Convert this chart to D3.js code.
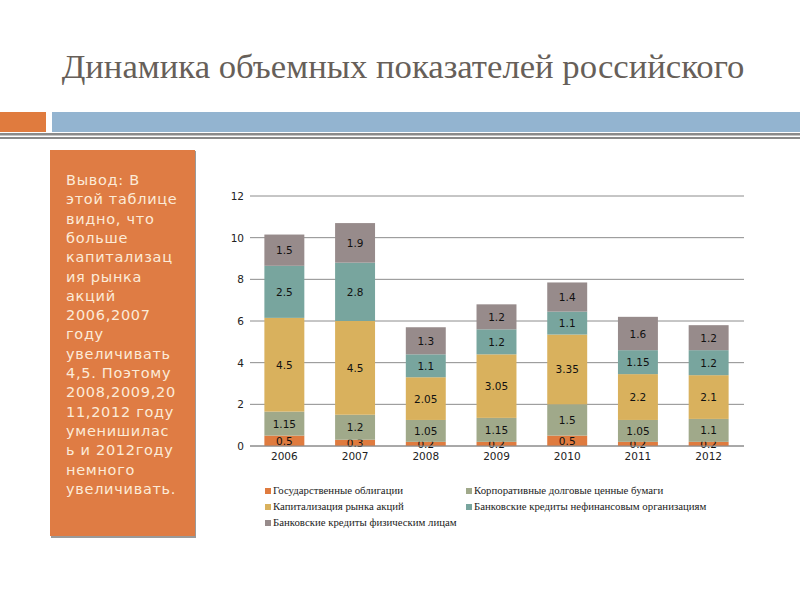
<!DOCTYPE html>
<html><head><meta charset="utf-8">
<script src="https://cdn.jsdelivr.net/npm/d3@7"></script>
<style>body{margin:0;background:#fff}svg{display:block}</style>
</head><body>
<svg id="c" width="800" height="600"></svg>
<script>
const years = ["2006","2007","2008","2009","2010","2011","2012"];
const seriesNames = ["Государственные облигации","Корпоративные долговые ценные бумаги","Капитализация рынка акций","Банковские кредиты нефинансовым организациям","Банковские кредиты физическим лицам"];
const govBonds = [0.5,0.3,0.2,0.2,0.5,0.2,0.2];
const corpBonds = [1.15,1.2,1.05,1.15,1.5,1.05,1.1];
const stockCap = [4.5,4.5,2.05,3.05,3.35,2.2,2.1];
const loansOrg = [2.5,2.8,1.1,1.2,1.1,1.15,1.2];
const loansInd = [1.5,1.9,1.3,1.2,1.4,1.6,1.2];
const yTicks = [0,2,4,6,8,10,12];
const colors = ["#df7b3f","#a0a98a","#d9b15d","#78a59e","#978b8b"];
const titleText = "Динамика объемных показателей российского";
const noteLines = ["Вывод: В","этой таблице","видно, что","больше","капитализац","ия рынка","акций","2006,2007","году","увеличивать","4,5. Поэтому","2008,2009,20","11,2012 году","уменишилас","ь и 2012году","немного","увеличивать."];
const SERIF = "Liberation Serif";
const SANS = "DejaVu Sans";

const svg = d3.select("#c");
// title
svg.append("text").style("font-family",SERIF).attr("x",403).attr("y",78).attr("text-anchor","middle")
  .attr("font-size",34.7).attr("fill","#675f59").text(titleText);
// header bars
svg.append("rect").attr("x",0).attr("y",112).attr("width",46).attr("height",20).attr("fill","#e07b3e");
svg.append("rect").attr("x",52).attr("y",112).attr("width",748).attr("height",20).attr("fill","#93b4d0");
svg.append("rect").attr("x",0).attr("y",133).attr("width",800).attr("height",2.5).attr("fill","#8a8a8a");
svg.append("rect").attr("x",0).attr("y",137).attr("width",800).attr("height",2).attr("fill","#8a8a8a");
// left panel
svg.append("rect").attr("x",51).attr("y",151).attr("width",145).attr("height",387).attr("fill","#9a9a9a");
svg.append("rect").attr("x",50).attr("y",150).attr("width",145).attr("height",386).attr("fill","#df7c44");
const note = svg.append("text").style("font-family",SANS).attr("font-size",14.5)
  .attr("letter-spacing",0.7).attr("fill","#fcebd8");
note.selectAll("tspan").data(noteLines).join("tspan").attr("x",66).attr("y",(d,i)=>185+i*19.3).text(d=>d);

// chart
const x = d3.scaleBand().domain(years).range([249,744]).paddingInner(0.435).paddingOuter(0.2175);
const y = d3.scaleLinear().domain([0,12]).range([446,196]);
const g = svg.append("g");
g.selectAll("line.grid").data(yTicks).join("line").attr("class","grid")
  .attr("x1",250).attr("x2",744).attr("y1",d=>y(d)).attr("y2",d=>y(d)).attr("stroke","#8c8c8c").attr("stroke-width",1);
g.selectAll("text.yt").data(yTicks).join("text").attr("class","yt").style("font-family",SANS)
  .attr("x",244).attr("y",d=>y(d)+4).attr("text-anchor","end")
  .attr("font-size",10.5).attr("fill","#222").text(d=>d);

const table = years.map((yr,i)=>({year:yr, s0:govBonds[i], s1:corpBonds[i], s2:stockCap[i], s3:loansOrg[i], s4:loansInd[i]}));
const keys = ["s0","s1","s2","s3","s4"];
const stack = d3.stack().keys(keys)(table);
stack.forEach((layer,li)=>{
  const lg = g.append("g");
  lg.selectAll("rect").data(layer).join("rect")
    .attr("x",d=>x(d.data.year)).attr("width",x.bandwidth())
    .attr("y",d=>y(d[1])).attr("height",d=>y(d[0])-y(d[1])).attr("fill",colors[li]);
  lg.selectAll("text").data(layer).join("text").style("font-family",SANS)
    .attr("x",d=>x(d.data.year)+x.bandwidth()/2).attr("y",d=>(y(d[0])+y(d[1]))/2+4)
    .attr("text-anchor","middle").attr("font-size",10.5).attr("fill","#111")
    .text(d=>d.data[keys[li]]);
});
g.append("line").attr("x1",250).attr("x2",744).attr("y1",y(0)).attr("y2",y(0)).attr("stroke","#8c8c8c");
g.selectAll("text.xt").data(years).join("text").attr("class","xt").style("font-family",SANS)
  .attr("x",d=>x(d)+x.bandwidth()/2).attr("y",460).attr("text-anchor","middle")
  .attr("font-size",10.5).attr("fill","#222").text(d=>d);

// legend
const legPos = [[265,494],[466,494],[265,510],[466,510],[265,526]];
const leg = svg.append("g");
seriesNames.forEach((n,i)=>{
  leg.append("rect").attr("x",legPos[i][0]).attr("y",legPos[i][1]-6).attr("width",6).attr("height",6).attr("fill",colors[i]);
  leg.append("text").style("font-family",SERIF).attr("x",legPos[i][0]+8).attr("y",legPos[i][1])
    .attr("font-size",10.8).attr("fill","#222").text(n);
});
</script>
</body></html>
